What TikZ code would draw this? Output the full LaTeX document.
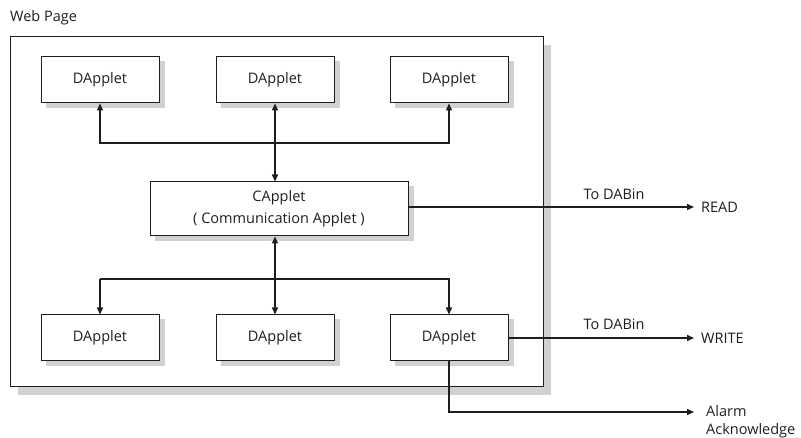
\documentclass[tikz,border=0pt]{standalone}
\usepackage{fontspec}
\setmainfont{Open Sans}
\usetikzlibrary{arrows.meta,backgrounds,calc}
\definecolor{shgray}{RGB}{208,209,212}
\definecolor{ink}{RGB}{30,30,30}
\tikzset{
  tip/.tip={Triangle[length=7pt,width=6pt]},
  box/.style={draw=ink, line width=1pt, fill=white, minimum width=118pt, minimum height=46pt,
    inner sep=0pt, font=\fontsize{14.5pt}{22pt}\selectfont, text=ink},
  conn/.style={draw=ink, line width=1.5pt},
  lbl/.style={font=\fontsize{14.5pt}{17pt}\selectfont, text=ink, inner sep=0pt},
  shadowfill/.style={fill=shgray},
}
\begin{document}
\begin{tikzpicture}[x=1pt,y=-1pt]
\useasboundingbox (0,0) rectangle (801,438);
\node[lbl, anchor=west] (wplbl) at (10,18) {Web Page};
% boxes
\node[box] (t1) at (100,80) {DApplet};
\node[box] (t2) at (275,80) {DApplet};
\node[box] (t3) at (449,80) {DApplet};
\node[box, minimum width=258pt, minimum height=54pt, align=center] (c) at (279,209) {CApplet\\( Communication Applet )};
\node[box] (b1) at (100,338) {DApplet};
\node[box] (b2) at (275,338) {DApplet};
\node[box] (b3) at (449,338) {DApplet};
\begin{scope}[on background layer]
  \fill[shadowfill] (18,45) rectangle (551,395);
  \draw[draw=ink, line width=1pt, fill=white] (10,37) rectangle (543,387);
  \foreach \n in {t1,t2,t3,c,b1,b2,b3}{
    \fill[shadowfill] ($(\n.south west)+(5,5)$) rectangle ($(\n.north east)+(5,5)$);
  }
\end{scope}
% horizontal bars
\coordinate (hb) at (0,143);
\coordinate (hb2) at (0,279);
\draw[conn, tip-tip] (t1.south) -- (t1.south |- hb) -- (t3.south |- hb) -- (t3.south);
\draw[conn, tip-tip] (t2.south) -- (t2.south |- c.north);
\draw[conn, -tip] (b1.north |- hb2) -- (b1.north);
\draw[conn, tip-tip] (c.south -| b2.north) -- (b2.north);
\draw[conn, -tip] (b1.north |- hb2) -- (b3.north |- hb2) -- (b3.north);
% outputs
\node[lbl, anchor=west] (read) at (701,207) {READ};
\node[lbl, anchor=west] (write) at (701,338) {WRITE};
\node[lbl, anchor=north west, align=left, font=\fontsize{14.5pt}{18pt}\selectfont] (alarm) at (706,405) {Alarm\\Acknowledge};
\coordinate (rdend) at (694,207);
\coordinate (wrend) at (694,338);
\coordinate (alend) at (694,412);
\draw[conn, -tip] (c.east |- rdend) -- (rdend);
\draw[conn, -tip] (b3.east) -- (wrend);
\draw[conn, -tip] (b3.south) |- (alend);
\node[lbl] (td1) at (614,194) {To DABin};
\node[lbl] (td2) at (614,324) {To DABin};
\end{tikzpicture}
\end{document}
